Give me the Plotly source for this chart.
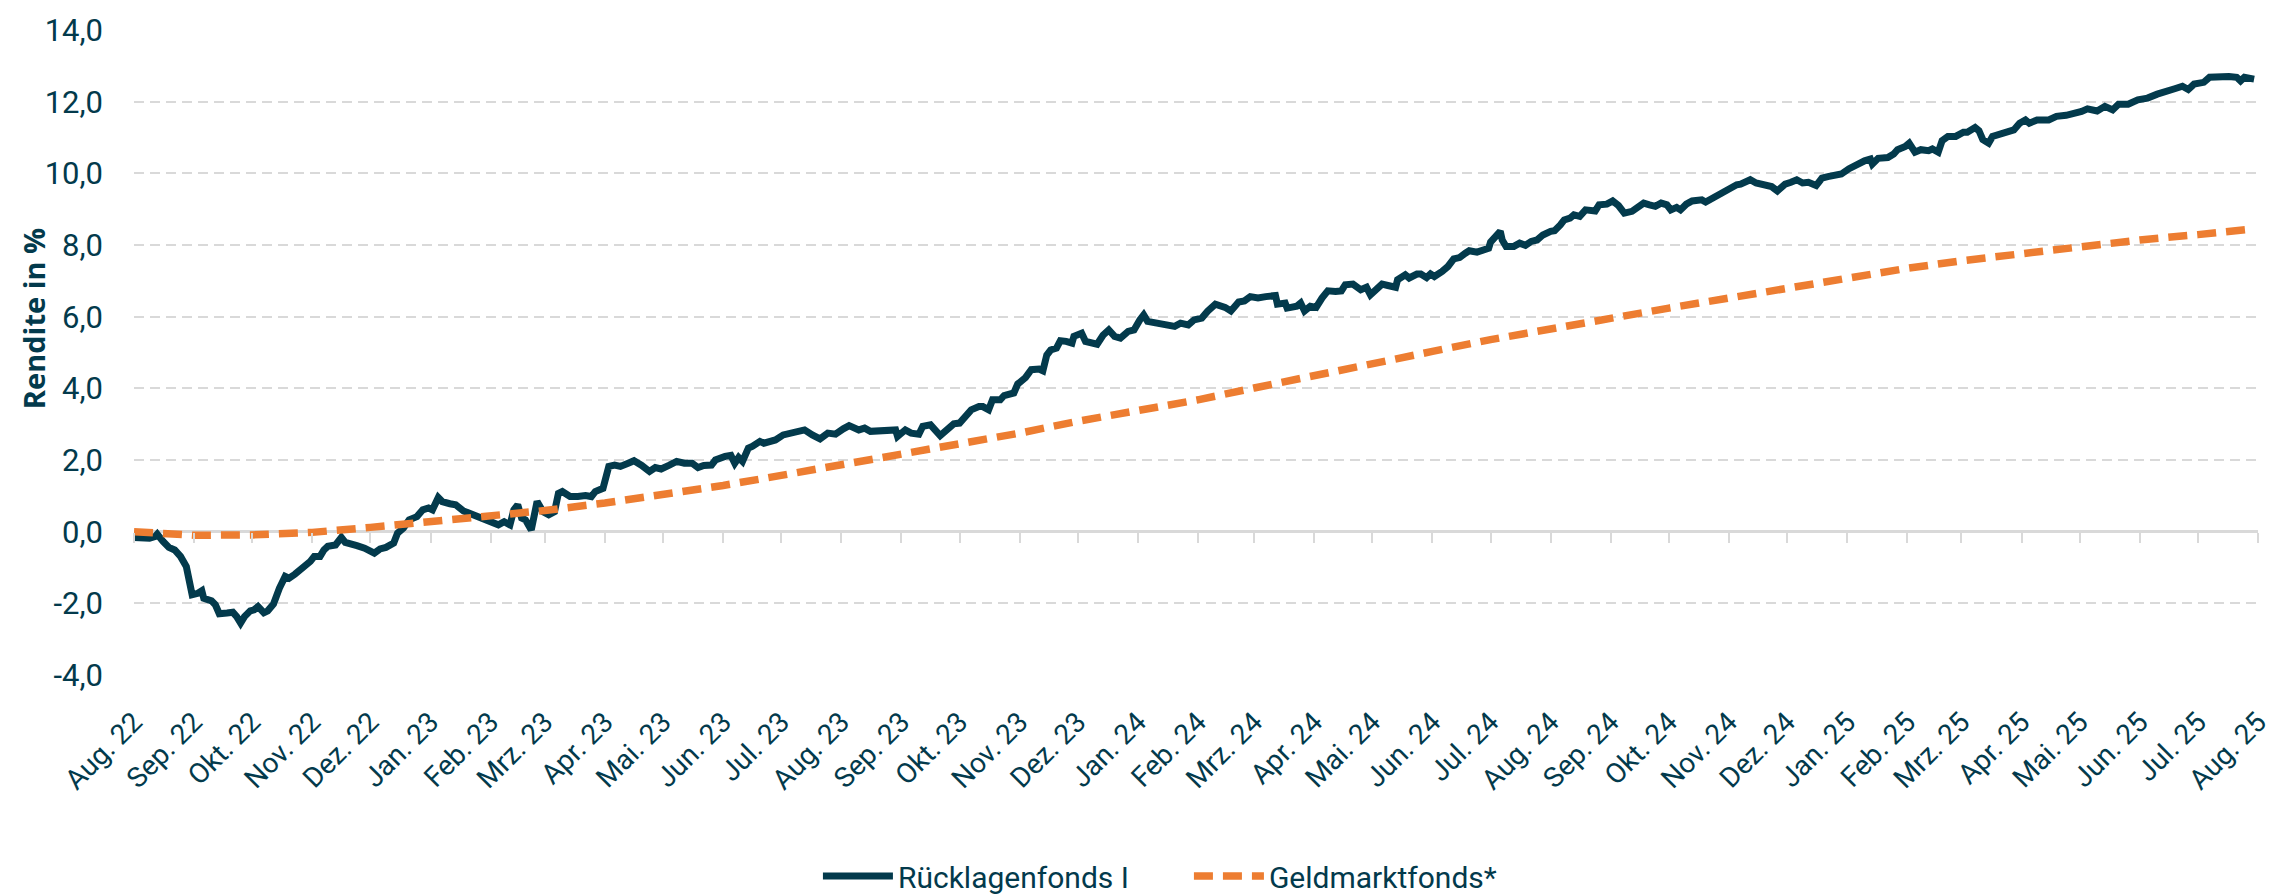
import pandas as pd
import plotly.graph_objects as go

NAVY = "#033A4C"
ORANGE = "#ED7D31"
GRID = "#D9D9D9"
FONT = "Roboto"

START = pd.Timestamp("2022-08-01")
Y_MIN, Y_MAX = -4, 14

MONATE = ["Jan.", "Feb.", "Mrz.", "Apr.", "Mai.", "Jun.",
          "Jul.", "Aug.", "Sep.", "Okt.", "Nov.", "Dez."]
tick_daten = pd.date_range("2022-08-01", periods=37, freq="MS")
tick_text = [f"{MONATE[d.month - 1]} {d:%y}" for d in tick_daten]
y_ticks = [-4, -2, 0, 2, 4, 6, 8, 10, 12, 14]
y_text = [f"{v:.1f}".replace(".", ",") for v in y_ticks]

# Rücklagenfonds I: Tage seit 01.08.2022 und Rendite in %
rlf_tage = [
    0, 5, 8, 11, 12, 15, 18, 21, 24, 27, 29, 30, 33, 35, 36, 40, 42, 44, 48, 51,
    53, 55, 57, 60, 62, 64, 67, 69, 72, 73, 75, 78, 80, 83, 86, 89, 91, 93, 96, 98,
    100, 104, 107, 109, 112, 115, 119, 124, 127, 130, 134, 136, 139, 142, 146, 149,
    152, 154, 157, 159, 163, 166, 170, 177,
    183, 188, 191, 194, 196, 198, 200, 202, 205, 206, 208, 211, 214, 217, 219, 221,
    225, 229, 233, 236, 238, 242, 244, 245, 248, 251, 255, 258, 262, 266, 269, 272,
    276, 280, 284, 288, 291, 294, 298, 300, 305, 308, 310, 312, 314, 317, 319, 323,
    325, 331, 335, 339, 343, 346, 350, 354, 358,
    362, 366, 369, 374, 377, 380, 385, 388, 393, 394, 398, 401, 405, 407, 411, 416,
    420, 423, 426, 430, 432, 436, 438, 441, 443, 447, 449, 454, 456, 460, 463, 467,
    469, 471, 473, 476, 478, 481, 484, 485, 489, 491, 497, 500, 503, 506, 509, 513,
    516, 519, 521, 523, 528, 532, 537, 540, 544, 547, 551, 554, 558,
    563, 566, 570, 573, 576, 580, 584, 589, 590, 594, 595, 600, 602, 604, 607, 610,
    613, 616, 620, 623, 625, 629, 633, 636, 638, 642, 644, 647, 651, 652, 656, 658,
    662, 664, 667, 669, 671, 675, 678, 681, 684, 687, 689, 693, 696, 699, 700, 703,
    705, 706, 708, 712, 715, 718, 721, 724, 727, 731, 733, 736, 738, 741, 743, 746, 749,
    754, 756, 760, 763, 766, 769, 773, 776, 779, 782, 785, 788, 791, 793, 796, 798,
    801, 804, 809, 811, 816, 820, 824, 827, 829, 834, 837, 841, 845, 848, 852, 855,
    858, 861, 864, 868, 871, 874, 878, 881, 885, 890, 893, 896, 897, 900, 905, 908,
    910, 914, 916, 919, 922, 926, 928, 931, 933, 936, 940,
    944, 946, 950, 952, 954, 957, 959, 964, 967, 970, 973, 976, 978, 982, 988, 992,
    997, 1000, 1005, 1008, 1013, 1017, 1021, 1024, 1029, 1034, 1039, 1044, 1049,
    1053, 1057, 1060, 1063, 1068, 1071, 1075, 1081, 1085, 1087, 1089, 1094,
]
rlf_rendite = [
    -0.16, -0.20, -0.18, -0.13, -0.07, -0.27, -0.44, -0.51, -0.69, -0.97, -1.48, -1.76,
    -1.72, -1.65, -1.86, -1.93, -2.04, -2.29, -2.27, -2.25, -2.37, -2.55, -2.37, -2.21,
    -2.18, -2.09, -2.26, -2.21, -2.02, -1.81, -1.58, -1.25, -1.30, -1.19, -1.07, -0.97,
    -0.83, -0.69, -0.69, -0.51, -0.41, -0.37, -0.16, -0.30, -0.37, -0.39, -0.46, -0.60,
    -0.48, -0.44, -0.32, -0.04, 0.10, 0.33, 0.42, 0.61, 0.66, 0.61, 0.95, 0.84, 0.78,
    0.75, 0.58, 0.42,
    0.28, 0.19, 0.28, 0.19, 0.61, 0.75, 0.38, 0.33, 0.05, 0.38, 0.84, 0.56, 0.47, 0.56,
    1.07, 1.12, 0.98, 0.98, 1.01, 0.98, 1.12, 1.21, 1.54, 1.82, 1.86, 1.82, 1.91, 1.98,
    1.85, 1.68, 1.79, 1.75, 1.85, 1.96, 1.91, 1.91, 1.79, 1.85, 1.86, 2.00, 2.10, 2.13,
    1.91, 2.07, 1.96, 2.33, 2.38, 2.52, 2.47, 2.56, 2.70, 2.75, 2.80, 2.84, 2.70, 2.59,
    2.75,
    2.72, 2.87, 2.96, 2.84, 2.89, 2.80, 2.81, 2.80, 2.84, 2.66, 2.84, 2.75, 2.72, 2.94,
    2.98, 2.68, 2.89, 3.01, 3.03, 3.26, 3.40, 3.49, 3.49, 3.40, 3.68, 3.68, 3.80, 3.87,
    4.12, 4.30, 4.52, 4.54, 4.49, 4.93, 5.07, 5.12, 5.33, 5.31, 5.26, 5.45, 5.54, 5.31,
    5.23, 5.48, 5.63, 5.45, 5.40, 5.59, 5.63, 5.91, 6.05, 5.87, 5.82, 5.77, 5.73, 5.82,
    5.77, 5.91, 5.96, 6.15, 6.35,
    6.26, 6.16, 6.41, 6.44, 6.56, 6.52, 6.56, 6.59, 6.35, 6.38, 6.24, 6.29, 6.38, 6.16,
    6.29, 6.26, 6.52, 6.72, 6.70, 6.72, 6.89, 6.91, 6.75, 6.82, 6.61, 6.80, 6.91, 6.87,
    6.82, 7.03, 7.17, 7.08, 7.19, 7.19, 7.09, 7.19, 7.12, 7.26, 7.40, 7.61, 7.65, 7.77,
    7.84, 7.80, 7.87, 7.91, 8.08, 8.30, 8.38, 8.14, 7.96, 7.96, 8.05, 7.99, 8.10, 8.14,
    8.28, 8.38, 8.40, 8.56, 8.70, 8.75, 8.84, 8.80, 8.98,
    8.95, 9.12, 9.14, 9.23, 9.10, 8.89, 8.94, 9.03, 9.17, 9.12, 9.08, 9.17, 9.12, 8.98,
    9.05, 8.98, 9.14, 9.23, 9.26, 9.20, 9.36, 9.48, 9.61, 9.68, 9.70, 9.82, 9.73, 9.66,
    9.63, 9.51, 9.70, 9.75, 9.82, 9.73, 9.75, 9.66, 9.87, 9.91, 9.94, 9.98, 10.13, 10.28,
    10.35, 10.40, 10.26, 10.42, 10.44, 10.54, 10.66, 10.75, 10.84, 10.59, 10.66, 10.63,
    10.68, 10.59, 10.91, 11.03, 11.03,
    11.15, 11.15, 11.28, 11.19, 10.94, 10.84, 11.03, 11.09, 11.17, 11.21, 11.40, 11.49,
    11.40, 11.49, 11.49, 11.59, 11.62, 11.65, 11.73, 11.80, 11.74, 11.87, 11.77, 11.93,
    11.93, 12.05, 12.10, 12.21, 12.27, 12.36, 12.43, 12.34, 12.49, 12.54, 12.68, 12.70,
    12.70, 12.68, 12.58, 12.68, 12.63,
]

# Geldmarktfonds*: Monatsanfänge plus letzter Tag
geld_datum = list(pd.date_range("2022-08-01", "2025-07-01", freq="MS")) + [pd.Timestamp("2025-07-30")]
geld_rendite = [
    0.00, -0.10, -0.09, -0.02, 0.12, 0.27, 0.42, 0.59, 0.80, 1.03, 1.29, 1.57,
    1.86, 2.14, 2.42, 2.75, 3.08, 3.37, 3.68, 4.01, 4.37, 4.69, 5.03, 5.36,
    5.67, 5.97, 6.24, 6.52, 6.80, 7.09, 7.35, 7.56, 7.77, 7.95, 8.14, 8.29, 8.45,
]

rlf_datum = START + pd.to_timedelta(rlf_tage, unit="D")
x_range = [tick_daten[0], tick_daten[-1]]

fig = go.Figure()
fig.add_trace(go.Scatter(
    x=rlf_datum, y=rlf_rendite, mode="lines", name="Rücklagenfonds I",
    line=dict(color=NAVY, width=7)))
# zweite x-Achse liefert die Teilstriche auf der Nulllinie
fig.add_trace(go.Scatter(
    x=geld_datum, y=geld_rendite, mode="lines", name="Geldmarktfonds*",
    xaxis="x2", line=dict(color=ORANGE, width=7.5, dash="19px,10px")))

fig.update_layout(
    width=2279, height=894,
    margin=dict(l=126, r=29, t=22, b=227, autoexpand=False),
    plot_bgcolor="white", paper_bgcolor="white",
    font=dict(family=FONT, color=NAVY, size=28),
    showlegend=True,
    legend=dict(orientation="h", x=0.322, xanchor="left", y=-0.3116, yanchor="middle",
                font=dict(size=30, color=NAVY), itemwidth=70,
                entrywidth=286, entrywidthmode="pixels"),
    xaxis=dict(
        type="date", range=x_range, tickvals=tick_daten, ticktext=tick_text,
        tickangle=-45, tickfont=dict(size=28, color=NAVY),
        showgrid=False, showline=False, zeroline=False, ticks="",
        ticklabelstandoff=24),
    xaxis2=dict(
        type="date", range=x_range, tickvals=tick_daten, overlaying="x",
        anchor="free", position=(0 - Y_MIN) / (Y_MAX - Y_MIN), side="bottom",
        showticklabels=False, showgrid=False, showline=False, zeroline=False,
        ticks="outside", ticklen=10, tickwidth=2, tickcolor=GRID),
    yaxis=dict(
        range=[Y_MIN, Y_MAX], tickvals=y_ticks, ticktext=y_text,
        tickfont=dict(size=31, color=NAVY),
        showgrid=True, gridcolor=GRID, gridwidth=1.5, griddash="10px,6px",
        zeroline=True, zerolinecolor=GRID, zerolinewidth=2.5,
        showline=False, ticks="", ticklabelstandoff=30),
)
fig.add_annotation(
    text="<b>Rendite in %</b>", textangle=-90, showarrow=False,
    xref="paper", yref="paper", x=-0.047, y=0.552,
    xanchor="center", yanchor="middle",
    font=dict(family="Open Sans", size=29, color=NAVY))

fig.write_html("out.html")
